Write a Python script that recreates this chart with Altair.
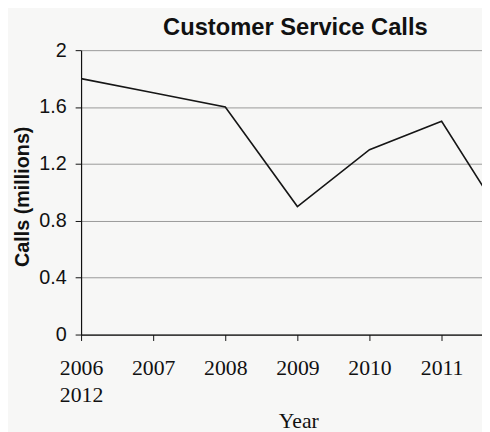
import altair as alt
import pandas as pd

years = [2006, 2007, 2008, 2009, 2010, 2011, 2012]
calls = [1.8, 1.7, 1.6, 0.9, 1.3, 1.5, 0.7]
y_ticks = [0, 0.4, 0.8, 1.2, 1.6, 2]
x_ticks = [2006, 2007, 2008, 2009, 2010, 2011]

df = pd.DataFrame({"Year": years, "Calls": calls})

chart = alt.Chart(df).mark_line(color="#161616", strokeWidth=1.6, clip=True).encode(
    x=alt.X("Year:Q",
            scale=alt.Scale(domain=[2006, 2011.56], nice=False, zero=False),
            axis=alt.Axis(values=x_ticks, grid=False, title="Year", format="d",
                          labelExpr="datum.value == 2006 ? ['2006', '2012'] : datum.label",
                          labelFont="Liberation Serif", labelFontSize=22, labelColor="#111",
                          labelLineHeight=28, labelPadding=17, labelOverlap=False,
                          labelFlush=False, labelBaseline="top",
                          tickSize=6, tickColor="#111", domainColor="#111", domainWidth=1.2,
                          titleFont="Liberation Serif", titleFontSize=22, titleFontWeight="normal",
                          titleColor="#111", titleX=220, titleY=77, titleAlign="center",
                          titleBaseline="top", titleAnchor="start")),
    y=alt.Y("Calls:Q",
            scale=alt.Scale(domain=[0, 2], nice=False),
            axis=alt.Axis(values=y_ticks, format="~g", title="Calls (millions)",
                          grid=True, gridColor="#999", gridWidth=1,
                          labelFont="Liberation Sans", labelFontSize=20, labelColor="#111",
                          labelPadding=9, tickSize=6, tickColor="#111",
                          domainColor="#111", domainWidth=1.2,
                          titleFont="Liberation Sans", titleFontSize=20, titleFontWeight="bold",
                          titleColor="#111", titleX=-59, titleY=148, titleAlign="center",
                          titleBaseline="middle", titleAngle=-90, titleAnchor="start")),
).properties(
    width=406, height=288,
    title=alt.TitleParams("Customer Service Calls", font="Liberation Sans", fontSize=24,
                          fontWeight="bold", color="#111", anchor="middle", dx=14, dy=14,
                          offset=14),
    autosize=alt.AutoSizeParams(type="none"),
    padding={"left": 74, "top": 40, "right": 0, "bottom": 96},
    background="#f7f7f6",
).configure_view(stroke=None)

chart.save("out.html", embed_options={"renderer": "svg", "actions": False})
